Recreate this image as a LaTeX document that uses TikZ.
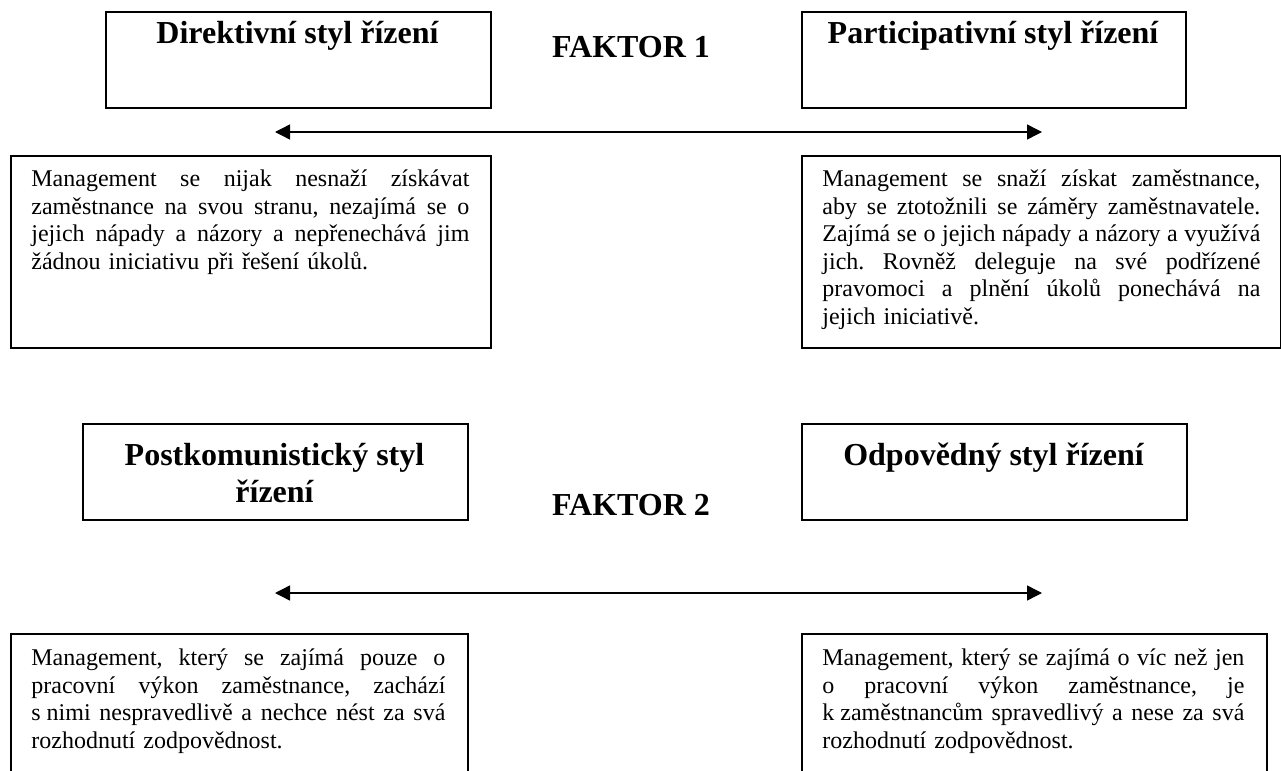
\documentclass[tikz,border=0pt]{standalone}
\usepackage{fontspec}
\setmainfont{Liberation Serif}
\usetikzlibrary{arrows.meta}
\setlength{\parindent}{0pt}
\frenchspacing
% one justified line of a fixed width (stretchable interword spaces)
\newcommand{\jl}[2]{\makebox[#1][s]{\spaceskip=0pt\xspaceskip=0pt #2}\\}
\tikzset{
  frame/.style={draw=black, line width=0.75pt, inner sep=0pt, anchor=north west},
  head/.style={font=\fontsize{16}{18.4}\selectfont\bfseries, inner sep=0pt, anchor=north, align=center},
  body/.style={font=\fontsize{12}{13.8}\selectfont, inner sep=0pt, anchor=north west, align=left},
  axis/.style={line width=0.7pt, {Triangle[length=7.5pt,width=7.5pt]}-{Triangle[length=7.5pt,width=7.5pt]}},
}
\begin{document}
\begin{tikzpicture}[x=0.5pt, y=-0.5pt]
\useasboundingbox (0,0) rectangle (1281,771);
\clip (0,0) rectangle (1281,771);

% ---- factor 1 ----
\node[frame, minimum width=192.5pt, minimum height=48pt] (dirbox) at (105,11) {};
\node[frame, minimum width=192pt, minimum height=48pt] (partbox) at (801,11) {};
\node[head] (dirtext) at (297.5,17.24) {\strut Direktivní styl řízení};
\node[head] (parttext) at (993,17.24) {\strut Participativní styl řízení};
\node[head] (f1) at (631,31.24) {\strut FAKTOR 1};

\coordinate (ax1w) at (275,132);
\coordinate (ax1e) at (1042,132);
\draw[axis] (ax1w) -- (ax1e);

\node[frame, minimum width=240pt, minimum height=96pt] (dirdesc) at (10,155) {};
\node[frame, minimum width=239.5pt, minimum height=96pt] (partdesc) at (801,155) {};
\node[body, text width=219pt] (dirbody) at (31,166.68) {\strut
\jl{219pt}{Management se nijak nesnaží získávat}
\jl{219pt}{zaměstnance na svou stranu, nezajímá se o}
\jl{219pt}{jejich nápady a názory a nepřenechává jim}
žádnou iniciativu při řešení úkolů.};
\node[body, text width=219pt] (partbody) at (822,166.68) {\strut
\jl{219pt}{Management se snaží získat zaměstnance,}
\jl{219pt}{aby se ztotožnili se záměry zaměstnavatele.}
\jl{219pt}{Zajímá se o jejich nápady a názory a využívá}
\jl{219pt}{jich. Rovněž deleguje na své podřízené}
\jl{219pt}{pravomoci a plnění úkolů ponechává na}
jejich iniciativě.};

% ---- factor 2 ----
\node[frame, minimum width=192.5pt, minimum height=48pt] (postbox) at (82,423) {};
\node[frame, minimum width=192.5pt, minimum height=48pt] (odpbox) at (801,423) {};
\node[head] (posttext) at (274.5,439.24) {\strut Postkomunistický styl\\řízení};
\node[head] (odptext) at (993.5,439.24) {\strut Odpovědný styl řízení};
\node[head] (f2) at (631,489.24) {\strut FAKTOR 2};

\coordinate (ax2w) at (275,593);
\coordinate (ax2e) at (1042,593);
\draw[axis] (ax2w) -- (ax2e);

\node[frame, minimum width=228.5pt, minimum height=83.5pt] (postdesc) at (10,633) {};
\node[frame, minimum width=232.5pt, minimum height=83.5pt] (odpdesc) at (801,633) {};
\node[body, text width=207pt] (postbody) at (31,645.68) {\strut
\jl{207pt}{Management, který se zajímá pouze o}
\jl{207pt}{pracovní výkon zaměstnance, zachází}
\jl{207pt}{s\hspace{0.25em}nimi nespravedlivě a nechce nést za svá}
rozhodnutí zodpovědnost.};
\node[body, text width=211pt] (odpbody) at (822,645.68) {\strut
\jl{211pt}{Management, který se zajímá o víc než jen}
\jl{211pt}{o pracovní výkon zaměstnance, je}
\jl{211pt}{k\hspace{0.25em}zaměstnancům spravedlivý a nese za svá}
rozhodnutí zodpovědnost.};
\end{tikzpicture}
\end{document}
